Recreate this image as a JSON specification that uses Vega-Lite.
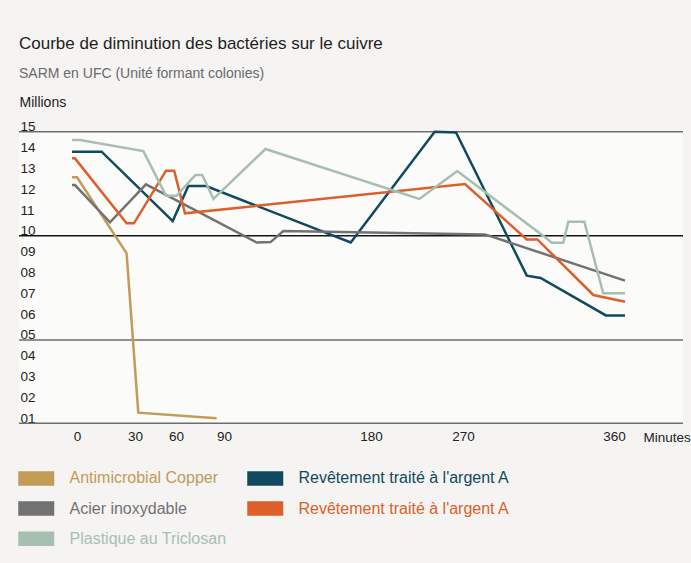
{
  "$schema": "https://vega.github.io/schema/vega-lite/v6.json",
  "width": 664,
  "height": 291.6,
  "autosize": {"type": "none"},
  "padding": {"left": 19, "top": 131.7, "right": 8, "bottom": 139.7},
  "background": "#f5f4f2",
  "title": {
    "text": "Courbe de diminution des bactéries sur le cuivre",
    "subtitle": "SARM en UFC (Unité formant colonies)",
    "anchor": "start",
    "frame": "group",
    "fontSize": 17,
    "fontWeight": "normal",
    "color": "#1e1e1e",
    "subtitleFontSize": 14,
    "subtitleColor": "#6a6a6a",
    "subtitlePadding": 14,
    "offset": 14
  },
  "config": {
    "font": "Liberation Sans",
    "view": {"stroke": null, "fill": "#fbfbfa"}
  },
  "layer": [
    {
      "data": {"values": [{"value": 15}, {"value": 10}, {"value": 5}, {"value": 1}]},
      "mark": {"type": "rule", "strokeWidth": 1.5},
      "encoding": {
        "y": {
          "field": "value", "type": "quantitative",
          "scale": {"domain": [1, 15], "nice": false, "zero": false},
          "axis": {
            "values": [1, 2, 3, 4, 5, 6, 7, 8, 9, 10, 11, 12, 13, 14, 15],
            "format": "02d",
            "domain": false, "ticks": false, "tickSize": 0, "grid": false,
            "labelAlign": "left", "labelBaseline": "middle", "labelOffset": -5, "labelPadding": -1,
            "labelFontSize": 13.5, "labelColor": "#222", "labelOverlap": false, "labelFlush": false,
            "title": "Millions", "titleAngle": 0, "titleX": 0, "titleY": -25, "titleAlign": "left",
            "titleBaseline": "alphabetic", "titleFontSize": 14, "titleFontWeight": "normal", "titleColor": "#222"
          }
        },
        "color": {"condition": {"test": "datum.value == 10", "value": "#151515"}, "value": "#6e6e6e"}
      }
    },
    {
      "data": {"values": [
        {"series": "Antimicrobial Copper", "t": 0, "value": 12.81},
        {"series": "Antimicrobial Copper", "t": 2.4, "value": 12.81},
        {"series": "Antimicrobial Copper", "t": 26.0, "value": 9.16},
        {"series": "Antimicrobial Copper", "t": 32.4, "value": 1.51},
        {"series": "Antimicrobial Copper", "t": 85.4, "value": 1.24},
        {"series": "Revêtement traité à l'argent A (1)", "t": 0, "value": 14.04},
        {"series": "Revêtement traité à l'argent A (1)", "t": 14.1, "value": 14.04},
        {"series": "Revêtement traité à l'argent A (1)", "t": 57.6, "value": 10.71},
        {"series": "Revêtement traité à l'argent A (1)", "t": 67.7, "value": 12.39},
        {"series": "Revêtement traité à l'argent A (1)", "t": 78.8, "value": 12.39},
        {"series": "Revêtement traité à l'argent A (1)", "t": 167.6, "value": 9.68},
        {"series": "Revêtement traité à l'argent A (1)", "t": 242.3, "value": 15.0},
        {"series": "Revêtement traité à l'argent A (1)", "t": 263.2, "value": 14.96},
        {"series": "Revêtement traité à l'argent A (1)", "t": 305.4, "value": 8.09},
        {"series": "Revêtement traité à l'argent A (1)", "t": 313.1, "value": 7.98},
        {"series": "Revêtement traité à l'argent A (1)", "t": 349.4, "value": 6.18},
        {"series": "Revêtement traité à l'argent A (1)", "t": 360, "value": 6.18},
        {"series": "Acier inoxydable", "t": 0, "value": 12.44},
        {"series": "Acier inoxydable", "t": 1.4, "value": 12.44},
        {"series": "Acier inoxydable", "t": 18.1, "value": 10.65},
        {"series": "Acier inoxydable", "t": 38.0, "value": 12.47},
        {"series": "Acier inoxydable", "t": 110.0, "value": 9.68},
        {"series": "Acier inoxydable", "t": 118.5, "value": 9.70},
        {"series": "Acier inoxydable", "t": 126.3, "value": 10.23},
        {"series": "Acier inoxydable", "t": 282.2, "value": 10.07},
        {"series": "Acier inoxydable", "t": 360, "value": 7.85},
        {"series": "Revêtement traité à l'argent A (2)", "t": 0, "value": 13.72},
        {"series": "Revêtement traité à l'argent A (2)", "t": 1.4, "value": 13.72},
        {"series": "Revêtement traité à l'argent A (2)", "t": 26.0, "value": 10.60},
        {"series": "Revêtement traité à l'argent A (2)", "t": 29.5, "value": 10.60},
        {"series": "Revêtement traité à l'argent A (2)", "t": 52.7, "value": 13.13},
        {"series": "Revêtement traité à l'argent A (2)", "t": 58.7, "value": 13.13},
        {"series": "Revêtement traité à l'argent A (2)", "t": 65.6, "value": 11.08},
        {"series": "Revêtement traité à l'argent A (2)", "t": 271.1, "value": 12.49},
        {"series": "Revêtement traité à l'argent A (2)", "t": 305.4, "value": 9.83},
        {"series": "Revêtement traité à l'argent A (2)", "t": 311.3, "value": 9.83},
        {"series": "Revêtement traité à l'argent A (2)", "t": 342.4, "value": 7.16},
        {"series": "Revêtement traité à l'argent A (2)", "t": 360, "value": 6.84},
        {"series": "Plastique au Triclosan", "t": 0, "value": 14.60},
        {"series": "Plastique au Triclosan", "t": 3.8, "value": 14.60},
        {"series": "Plastique au Triclosan", "t": 36.1, "value": 14.07},
        {"series": "Plastique au Triclosan", "t": 52.7, "value": 11.93},
        {"series": "Plastique au Triclosan", "t": 60.4, "value": 11.93},
        {"series": "Plastique au Triclosan", "t": 72.2, "value": 12.92},
        {"series": "Plastique au Triclosan", "t": 76.4, "value": 12.92},
        {"series": "Plastique au Triclosan", "t": 83.4, "value": 11.77},
        {"series": "Plastique au Triclosan", "t": 115.4, "value": 14.17},
        {"series": "Plastique au Triclosan", "t": 227.3, "value": 11.77},
        {"series": "Plastique au Triclosan", "t": 264.4, "value": 13.11},
        {"series": "Plastique au Triclosan", "t": 315.6, "value": 9.93},
        {"series": "Plastique au Triclosan", "t": 319.3, "value": 9.67},
        {"series": "Plastique au Triclosan", "t": 325.7, "value": 9.67},
        {"series": "Plastique au Triclosan", "t": 328.5, "value": 10.68},
        {"series": "Plastique au Triclosan", "t": 337.4, "value": 10.68},
        {"series": "Plastique au Triclosan", "t": 347.9, "value": 7.24},
        {"series": "Plastique au Triclosan", "t": 360, "value": 7.24}
      ]},
      "mark": {"type": "line", "strokeWidth": 2.5},
      "encoding": {
        "x": {
          "field": "t", "type": "quantitative",
          "scale": {"domain": [0, 30, 60, 90, 180, 270, 360], "range": [53, 116, 157, 205, 352, 444, 606], "nice": false, "zero": false},
          "axis": {
            "values": [0, 30, 60, 90, 180, 270, 360],
            "domain": false, "ticks": false, "tickSize": 0, "grid": false,
            "labelFontSize": 13.5, "labelColor": "#222", "labelPadding": 6,
            "labelOverlap": false, "labelFlush": false,
            "labelOffset": {"condition": [{"test": "datum.value == 0", "value": 5}, {"test": "datum.value == 360", "value": -11}], "value": 0},
            "title": "Minutes", "titleX": 624, "titleY": 18, "titleAlign": "left", "titleBaseline": "alphabetic",
            "titleFontSize": 13.5, "titleFontWeight": "normal", "titleColor": "#222"
          }
        },
        "y": {
          "field": "value", "type": "quantitative",
          "scale": {"domain": [1, 15], "nice": false, "zero": false},
          "axis": {
            "values": [1, 2, 3, 4, 5, 6, 7, 8, 9, 10, 11, 12, 13, 14, 15],
            "format": "02d",
            "domain": false, "ticks": false, "tickSize": 0, "grid": false,
            "labelAlign": "left", "labelBaseline": "middle", "labelOffset": -5, "labelPadding": -1,
            "labelFontSize": 13.5, "labelColor": "#222", "labelOverlap": false, "labelFlush": false,
            "title": "Millions", "titleAngle": 0, "titleX": 0, "titleY": -25, "titleAlign": "left",
            "titleBaseline": "alphabetic", "titleFontSize": 14, "titleFontWeight": "normal", "titleColor": "#222"
          }
        },
        "color": {
          "field": "series", "type": "nominal",
          "scale": {
            "domain": ["Antimicrobial Copper", "Revêtement traité à l'argent A (1)", "Acier inoxydable", "Revêtement traité à l'argent A (2)", "Plastique au Triclosan"],
            "range": ["#c39b58", "#114a5e", "#727272", "#dc5f2c", "#a7bfb0"]
          },
          "legend": {
            "orient": "none", "legendX": 7.75, "legendY": 337,
            "columns": 2, "direction": "horizontal",
            "title": null, "padding": 0,
            "symbolType": "M-2.25,-0.75H2.25M-2.25,-0.5H2.25M-2.25,-0.25H2.25M-2.25,0H2.25M-2.25,0.25H2.25M-2.25,0.5H2.25M-2.25,0.75H2.25",
            "symbolSize": 256, "symbolStrokeWidth": 2.5,
            "labelFontSize": 16, "labelOffset": 23.75, "labelLimit": 400,
            "labelColor": {"expr": "scale('color', datum.value)"},
            "columnPadding": 15, "rowPadding": 7.3,
            "labelExpr": "indexof(datum.label, ' (') > 0 ? substring(datum.label, 0, indexof(datum.label, ' (')) : datum.label"
          }
        }
      }
    }
  ]
}
